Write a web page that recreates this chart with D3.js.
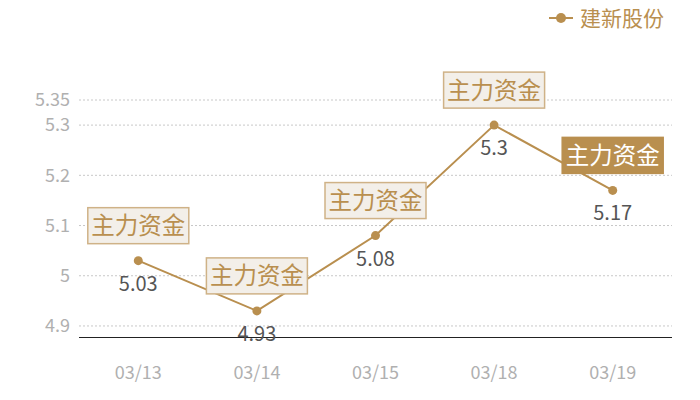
<!DOCTYPE html>
<html>
<head>
<meta charset="utf-8">
<script src="https://cdn.jsdelivr.net/npm/d3@7"></script>
<style>
  body { margin: 0; background: #fff; }
  text { font-family: "Noto Sans CJK SC", "Noto Sans", sans-serif; }
</style>
</head>
<body>
<script>
var dates = ["03/13", "03/14", "03/15", "03/18", "03/19"];
var prices = [5.03, 4.93, 5.08, 5.3, 5.17];
var yTicks = [4.9, 5, 5.1, 5.2, 5.3, 5.35];
var seriesName = "建新股份";
var tagText = "主力资金";
var highlightIndex = 4;

var w = 700, h = 400;
var margin = { top: 100, right: 28, bottom: 63, left: 79 };
var width = w - margin.left - margin.right;
var height = h - margin.top - margin.bottom;
var gold = "#b98f4f";

var svg = d3.select("body")
            .append("svg")
            .attr("width", w)
            .attr("height", h)
            .append("g")
            .attr("transform", `translate(${margin.left},${margin.top})`);

var x = d3.scaleBand()
          .domain(dates)
          .range([0, width]);

var y = d3.scaleLinear()
          .domain([4.878, 5.35])
          .range([height, 0]);

// grid + y labels
svg.selectAll(".grid")
   .data(yTicks)
   .enter()
   .append("line")
   .attr("x1", 0)
   .attr("x2", width)
   .attr("y1", d => y(d))
   .attr("y2", d => y(d))
   .attr("stroke", "#c8c8c8")
   .attr("stroke-dasharray", "2,2");

svg.selectAll(".ylab")
   .data(yTicks)
   .enter()
   .append("text")
   .attr("x", -9)
   .attr("y", d => y(d))
   .attr("dy", "0.35em")
   .attr("text-anchor", "end")
   .attr("font-size", "18px")
   .attr("fill", "#b0b0b0")
   .text(d => d);

// x axis
svg.append("line")
   .attr("x1", 0)
   .attr("x2", width)
   .attr("y1", height + 0.5)
   .attr("y2", height + 0.5)
   .attr("stroke", "#222")
   .attr("stroke-width", 1.2)
   .attr("shape-rendering", "crispEdges");

svg.selectAll(".xlab")
   .data(dates)
   .enter()
   .append("text")
   .attr("x", d => x(d) + x.bandwidth() / 2)
   .attr("y", height + 36)
   .attr("dy", "0.35em")
   .attr("text-anchor", "middle")
   .attr("font-size", "18px")
   .attr("fill", "#b0b0b0")
   .text(d => d);

// line
var pts = dates.map((d, i) => ({ date: d, v: prices[i], i: i }));
var line = d3.line()
             .x(d => x(d.date) + x.bandwidth() / 2)
             .y(d => y(d.v));

svg.append("path")
   .datum(pts)
   .attr("d", line)
   .attr("fill", "none")
   .attr("stroke", gold)
   .attr("stroke-width", 2);

svg.selectAll(".dot")
   .data(pts)
   .enter()
   .append("circle")
   .attr("cx", d => x(d.date) + x.bandwidth() / 2)
   .attr("cy", d => y(d.v))
   .attr("r", 4.5)
   .attr("fill", gold);

svg.selectAll(".val")
   .data(pts)
   .enter()
   .append("text")
   .attr("x", d => x(d.date) + x.bandwidth() / 2)
   .attr("y", d => y(d.v) + 23)
   .attr("dy", "0.35em")
   .attr("text-anchor", "middle")
   .attr("font-size", "20px")
   .attr("fill", "#555")
   .text(d => d.v);

// tags
var tags = svg.selectAll(".tag")
              .data(pts)
              .enter()
              .append("g")
              .attr("transform", d => `translate(${x(d.date) + x.bandwidth() / 2},${y(d.v) - 35})`);

tags.append("rect")
    .attr("x", -50.5)
    .attr("y", -18)
    .attr("width", 101)
    .attr("height", 36)
    .attr("fill", d => d.i === highlightIndex ? "#b98f4f" : "#f3efe9")
    .attr("stroke", d => d.i === highlightIndex ? "#b98f4f" : "#cfb287")
    .attr("stroke-width", 1.5);

tags.append("text")
    .attr("text-anchor", "middle")
    .attr("dy", "0.36em")
    .attr("font-size", "23.5px")
    .attr("fill", d => d.i === highlightIndex ? "#fff" : "#b98f4f")
    .text(tagText);

// legend
var legend = d3.select("svg").append("g")
               .attr("transform", "translate(549,18)");
legend.append("line")
      .attr("x1", 0).attr("x2", 24)
      .attr("stroke", gold).attr("stroke-width", 2);
legend.append("circle")
      .attr("cx", 12).attr("r", 5).attr("fill", gold);
legend.append("text")
      .attr("x", 31)
      .attr("dy", "0.36em")
      .attr("font-size", "21px")
      .attr("fill", "#b98f4f")
      .text(seriesName);
</script>
</body>
</html>
